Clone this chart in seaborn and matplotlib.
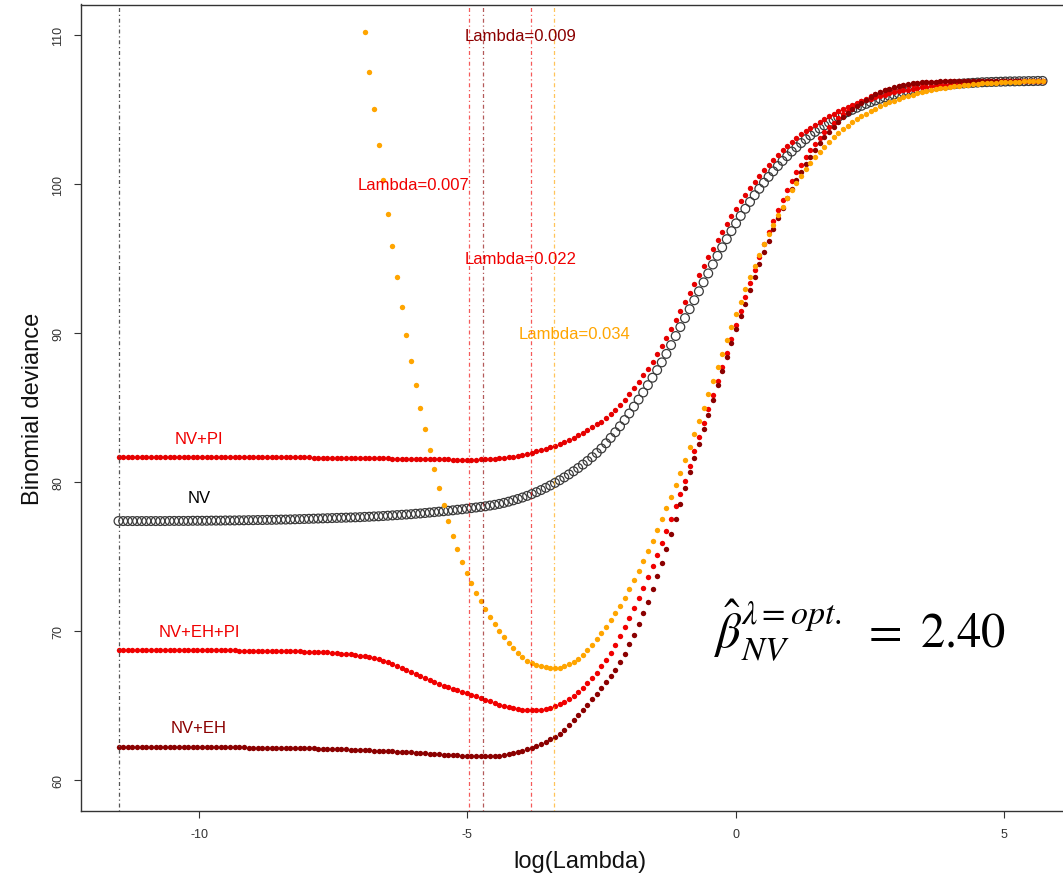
import numpy as np
import pandas as pd
import matplotlib
matplotlib.use("Agg")
import matplotlib.pyplot as plt
import seaborn as sns

# ---- lambda path (evenly spaced in log(lambda), glmnet style) ----
LOG_LAMBDA_MIN = -11.50
LOG_LAMBDA_MAX = 5.72
N_LAMBDA = 200

# ---- cross-validated binomial deviance along the lambda path ----
dev_nv = [
    77.38, 77.38, 77.38, 77.38, 77.38, 77.38, 77.38, 77.38, 77.38, 77.38,
    77.38, 77.39, 77.39, 77.39, 77.39, 77.39, 77.40, 77.40, 77.40, 77.40,
    77.41, 77.41, 77.41, 77.42, 77.42, 77.42, 77.43, 77.43, 77.44, 77.44,
    77.45, 77.45, 77.46, 77.46, 77.47, 77.48, 77.48, 77.49, 77.50, 77.51,
    77.52, 77.53, 77.54, 77.55, 77.56, 77.57, 77.58, 77.59, 77.60, 77.61,
    77.62, 77.63, 77.64, 77.66, 77.67, 77.69, 77.70, 77.72, 77.74, 77.76,
    77.78, 77.80, 77.82, 77.84, 77.87, 77.89, 77.92, 77.95, 77.98, 78.01,
    78.04, 78.07, 78.10, 78.14, 78.17, 78.21, 78.25, 78.29, 78.33, 78.37,
    78.42, 78.47, 78.53, 78.60, 78.68, 78.77, 78.86, 78.96, 79.07, 79.19,
    79.32, 79.46, 79.61, 79.77, 79.94, 80.12, 80.31, 80.51, 80.72, 80.94,
    81.17, 81.41, 81.67, 81.95, 82.25, 82.60, 82.96, 83.34, 83.74, 84.16,
    84.60, 85.06, 85.53, 86.01, 86.50, 87.00, 87.51, 88.03, 88.60, 89.19,
    89.80, 90.40, 91.00, 91.60, 92.20, 92.80, 93.40, 94.00, 94.60, 95.18,
    95.75, 96.30, 96.84, 97.36, 97.86, 98.34, 98.80, 99.25, 99.68, 100.09,
    100.48, 100.85, 101.21, 101.55, 101.87, 102.18, 102.47, 102.75, 103.01, 103.26,
    103.50, 103.72, 103.93, 104.13, 104.32, 104.50, 104.67, 104.83, 104.98, 105.12,
    105.25, 105.38, 105.50, 105.61, 105.72, 105.82, 105.91, 106.00, 106.08, 106.16,
    106.23, 106.30, 106.36, 106.42, 106.47, 106.52, 106.56, 106.60, 106.64, 106.67,
    106.70, 106.73, 106.75, 106.77, 106.79, 106.81, 106.83, 106.84, 106.85, 106.86,
    106.87, 106.88, 106.89, 106.89, 106.90, 106.90, 106.91, 106.91, 106.92, 106.92,
]

dev_nv_pi = [
    81.68, 81.68, 81.68, 81.68, 81.68, 81.68, 81.68, 81.68, 81.68, 81.68,
    81.68, 81.68, 81.68, 81.68, 81.68, 81.67, 81.67, 81.67, 81.67, 81.67,
    81.67, 81.67, 81.67, 81.67, 81.67, 81.66, 81.66, 81.66, 81.66, 81.66,
    81.66, 81.66, 81.66, 81.66, 81.66, 81.65, 81.65, 81.65, 81.65, 81.65,
    81.65, 81.65, 81.64, 81.64, 81.64, 81.63, 81.63, 81.63, 81.62, 81.62,
    81.62, 81.61, 81.61, 81.60, 81.60, 81.59, 81.59, 81.58, 81.58, 81.57,
    81.57, 81.56, 81.56, 81.55, 81.55, 81.54, 81.54, 81.53, 81.53, 81.52,
    81.52, 81.52, 81.51, 81.51, 81.51, 81.51, 81.51, 81.51, 81.52, 81.52,
    81.53, 81.55, 81.58, 81.62, 81.66, 81.71, 81.77, 81.83, 81.90, 81.97,
    82.05, 82.13, 82.22, 82.32, 82.43, 82.55, 82.68, 82.82, 82.97, 83.13,
    83.30, 83.48, 83.67, 83.87, 84.05, 84.30, 84.57, 84.86, 85.17, 85.50,
    85.90, 86.30, 86.72, 87.15, 87.60, 88.08, 88.60, 89.13, 89.68, 90.26,
    90.86, 91.46, 92.07, 92.68, 93.29, 93.90, 94.50, 95.09, 95.67, 96.24,
    96.79, 97.33, 97.85, 98.35, 98.83, 99.29, 99.73, 100.15, 100.55, 100.93,
    101.29, 101.63, 101.95, 102.26, 102.55, 102.82, 103.08, 103.33, 103.56, 103.78,
    103.99, 104.19, 104.38, 104.56, 104.73, 104.89, 105.04, 105.18, 105.31, 105.43,
    105.54, 105.64, 105.74, 105.83, 105.92, 106.00, 106.08, 106.15, 106.22, 106.28,
    106.34, 106.39, 106.44, 106.49, 106.53, 106.57, 106.61, 106.64, 106.67, 106.70,
    106.73, 106.75, 106.77, 106.79, 106.81, 106.83, 106.84, 106.85, 106.86, 106.87,
    106.88, 106.89, 106.90, 106.90, 106.91, 106.91, 106.92, 106.92, 106.93, 106.93,
]

dev_nv_eh_pi = [
    68.72, 68.72, 68.72, 68.72, 68.72, 68.72, 68.72, 68.72, 68.72, 68.72,
    68.72, 68.72, 68.72, 68.72, 68.72, 68.71, 68.71, 68.71, 68.71, 68.71,
    68.71, 68.70, 68.70, 68.70, 68.70, 68.70, 68.69, 68.69, 68.69, 68.68,
    68.68, 68.68, 68.67, 68.67, 68.66, 68.66, 68.65, 68.64, 68.64, 68.63,
    68.62, 68.61, 68.60, 68.59, 68.57, 68.56, 68.54, 68.52, 68.49, 68.46,
    68.43, 68.39, 68.35, 68.30, 68.24, 68.17, 68.09, 68.00, 67.90, 67.79,
    67.67, 67.54, 67.40, 67.26, 67.12, 66.98, 66.84, 66.71, 66.58, 66.46,
    66.34, 66.23, 66.12, 66.02, 65.92, 65.82, 65.71, 65.61, 65.50, 65.39,
    65.28, 65.17, 65.06, 64.97, 64.89, 64.82, 64.76, 64.72, 64.70, 64.69,
    64.70, 64.73, 64.78, 64.86, 64.97, 65.10, 65.26, 65.45, 65.67, 65.92,
    66.20, 66.50, 66.82, 67.20, 67.62, 68.07, 68.55, 69.06, 69.65, 70.25,
    70.88, 71.53, 72.20, 72.90, 73.62, 74.36, 75.12, 75.90, 76.70, 77.52,
    78.36, 79.22, 80.10, 81.10, 82.05, 83.00, 83.97, 84.92, 85.86, 86.80,
    87.74, 88.68, 89.62, 90.56, 91.50, 92.42, 93.34, 94.24, 95.11, 95.95,
    96.76, 97.53, 98.26, 98.95, 99.60, 100.21, 100.78, 101.31, 101.80, 102.26,
    102.69, 103.09, 103.46, 103.80, 104.12, 104.41, 104.68, 104.93, 105.16, 105.37,
    105.56, 105.73, 105.89, 106.03, 106.16, 106.28, 106.38, 106.47, 106.55, 106.62,
    106.68, 106.73, 106.77, 106.80, 106.83, 106.85, 106.87, 106.88, 106.89, 106.90,
    106.90, 106.91, 106.91, 106.91, 106.92, 106.92, 106.92, 106.92, 106.93, 106.93,
    106.93, 106.93, 106.93, 106.93, 106.94, 106.94, 106.94, 106.94, 106.94, 106.94,
]

dev_nv_eh = [
    62.22, 62.22, 62.22, 62.22, 62.22, 62.22, 62.22, 62.22, 62.22, 62.22,
    62.22, 62.22, 62.21, 62.21, 62.21, 62.21, 62.21, 62.21, 62.20, 62.20,
    62.20, 62.20, 62.20, 62.20, 62.19, 62.19, 62.19, 62.19, 62.18, 62.18,
    62.18, 62.17, 62.17, 62.17, 62.16, 62.16, 62.15, 62.15, 62.14, 62.14,
    62.13, 62.12, 62.12, 62.11, 62.10, 62.09, 62.08, 62.07, 62.06, 62.05,
    62.04, 62.03, 62.02, 62.00, 61.99, 61.98, 61.96, 61.95, 61.93, 61.92,
    61.90, 61.88, 61.87, 61.85, 61.83, 61.81, 61.79, 61.77, 61.75, 61.73,
    61.71, 61.69, 61.67, 61.65, 61.64, 61.62, 61.61, 61.60, 61.59, 61.59,
    61.59, 61.60, 61.63, 61.67, 61.73, 61.80, 61.88, 61.97, 62.07, 62.18,
    62.30, 62.43, 62.57, 62.73, 62.90, 63.10, 63.38, 63.68, 64.00, 64.34,
    64.70, 65.06, 65.43, 65.80, 66.18, 66.57, 66.98, 67.41, 67.90, 68.48,
    69.10, 69.76, 70.46, 71.20, 71.98, 72.80, 73.66, 74.56, 75.50, 76.48,
    77.50, 78.55, 79.62, 80.65, 81.62, 82.58, 83.55, 84.52, 85.50, 86.48,
    87.45, 88.42, 89.35, 90.25, 91.12, 91.97, 92.87, 93.75, 94.60, 95.42,
    96.21, 96.97, 97.70, 98.40, 99.06, 99.68, 100.27, 100.83, 101.35, 101.84,
    102.30, 102.73, 103.13, 103.50, 103.85, 104.17, 104.47, 104.75, 105.01, 105.25,
    105.47, 105.67, 105.85, 106.01, 106.15, 106.28, 106.39, 106.49, 106.57, 106.64,
    106.70, 106.75, 106.79, 106.82, 106.85, 106.87, 106.88, 106.89, 106.90, 106.91,
    106.91, 106.92, 106.92, 106.92, 106.93, 106.93, 106.93, 106.93, 106.94, 106.94,
    106.94, 106.94, 106.94, 106.94, 106.94, 106.94, 106.94, 106.94, 106.94, 106.94,
]

# the fifth model's curve enters the plotting window at path index 53
EXT_START = 53
dev_ext = [
    110.22, 107.55, 105.04, 102.62, 100.28, 98.02, 95.85,
    93.77, 91.78, 89.88, 88.10, 86.50, 84.98, 83.53, 82.15, 80.85, 79.62,
    78.47, 77.40, 76.41, 75.50, 74.66, 73.89, 73.19, 72.56, 72.00, 71.45,
    70.93, 70.45, 70.00, 69.60, 69.22, 68.86, 68.54, 68.25, 68.02, 67.85,
    67.72, 67.62, 67.56, 67.52, 67.52, 67.55, 67.63, 67.76, 67.93, 68.15,
    68.42, 68.73, 69.08, 69.47, 69.88, 70.30, 70.74, 71.20, 71.70, 72.23,
    72.80, 73.40, 74.03, 74.69, 75.37, 76.07, 76.79, 77.52, 78.26, 79.01,
    79.78, 80.60, 81.45, 82.32, 83.20, 84.10, 85.00, 85.90, 86.80, 87.70,
    88.60, 89.50, 90.38, 91.25, 92.10, 92.93, 93.73, 94.50, 95.24, 95.95,
    96.63, 97.28, 97.90, 98.49, 99.05, 99.58, 100.08, 100.55, 100.99, 101.41,
    101.80, 102.17, 102.51, 102.83, 103.13, 103.41, 103.67, 103.91, 104.14, 104.35,
    104.55, 104.73, 104.90, 105.06, 105.21, 105.35, 105.48, 105.60, 105.71, 105.81,
    105.91, 106.00, 106.08, 106.16, 106.23, 106.30, 106.36, 106.42, 106.47, 106.52,
    106.56, 106.60, 106.64, 106.67, 106.70, 106.73, 106.75, 106.77, 106.79, 106.81,
    106.83, 106.84, 106.86, 106.87, 106.88, 106.89, 106.90, 106.91, 106.92, 106.93,
]

# optimal lambda of each penalised model
lambda_opt = [0.007, 0.009, 0.022, 0.034]
lambda_colors = ["#F00000", "#8B0000", "#F00000", "#FFA500"]
lambda_label_x = [-6.0, -4.0, -4.0, -3.0]
lambda_label_y = [100.0, 110.0, 95.0, 90.0]

series_names = ["NV+PI", "NV", "NV+EH+PI", "NV+EH"]
series_colors = ["#F00000", "black", "#F00000", "#8B0000"]
series_label_x = [-10.0, -10.0, -10.0, -10.0]
series_label_y = [82.9, 78.95, 69.95, 63.5]

beta_nv_opt = 2.40

# ---- styling ----
sns.set_theme(style="ticks")
plt.rcParams["font.family"] = ["Liberation Sans", "DejaVu Sans"]
plt.rcParams["mathtext.fontset"] = "stix"
plt.rcParams["axes.unicode_minus"] = False

log_lambda = np.linspace(LOG_LAMBDA_MIN, LOG_LAMBDA_MAX, N_LAMBDA)
df = pd.DataFrame({
    "log_lambda": log_lambda,
    "NV": dev_nv,
    "NV+PI": dev_nv_pi,
    "NV+EH+PI": dev_nv_eh_pi,
    "NV+EH": dev_nv_eh,
})
df_ext = pd.DataFrame({
    "log_lambda": log_lambda[EXT_START:],
    "dev": dev_ext,
})

fig = plt.figure(figsize=(10.63, 8.79), dpi=100)
ax = fig.add_axes([81 / 1063, (879 - 812.4) / 879, 997.5 / 1063, 806.9 / 879])

# open circles for the NV-only model
sns.scatterplot(data=df, x="log_lambda", y="NV", ax=ax, marker="o", s=40,
                facecolor="none", edgecolor="#3a3a3a", linewidth=0.9,
                legend=False, zorder=2)
ax.collections[-1].set_facecolor("none")

dot_kw = dict(marker="o", s=15, linewidth=0, legend=False, zorder=3)
sns.scatterplot(data=df, x="log_lambda", y="NV+PI", ax=ax, color="#E60000", **dot_kw)
sns.scatterplot(data=df, x="log_lambda", y="NV+EH+PI", ax=ax, color="#F00000", **dot_kw)
sns.scatterplot(data=df, x="log_lambda", y="NV+EH", ax=ax, color="#8B0000", **dot_kw)
sns.scatterplot(data=df_ext, x="log_lambda", y="dev", ax=ax, color="#FFA500", **dot_kw)

# vertical markers at the optimal lambdas
dotdash = (0, (1.0, 2.2, 3.2, 2.2))
nv_best = log_lambda[int(np.argmin(dev_nv))]
ax.axvline(nv_best, color="#555555", lw=0.9, ls=dotdash, zorder=4)
for lam, col in zip(lambda_opt, lambda_colors):
    ax.axvline(np.log(lam), color=col, lw=0.9, ls=dotdash, alpha=0.65, zorder=4)

for lam, col, tx, ty in zip(lambda_opt, lambda_colors, lambda_label_x, lambda_label_y):
    ax.text(tx, ty, f"Lambda={lam:.3f}", color=col, fontsize=12,
            ha="center", va="center", zorder=5)

for name, col, tx, ty in zip(series_names, series_colors, series_label_x, series_label_y):
    ax.text(tx, ty, name, color=col, fontsize=12, ha="center", va="center", zorder=5)

ax.text(-0.40, 68.9, r"$\hat{\beta}_{NV}^{\lambda=opt.}\ =\ %.2f$" % beta_nv_opt,
        fontsize=35, ha="left", va="baseline", color="black", zorder=5)

ax.set_xlim(-12.199, 6.39)
ax.set_ylim(57.893, 112.05)
ax.set_xticks([-10, -5, 0, 5])
ax.set_yticks([60, 70, 80, 90, 100, 110])
for sp in ax.spines.values():
    sp.set_visible(True)
    sp.set_color("#333333")
    sp.set_linewidth(1.0)
ax.tick_params(axis="both", direction="out", length=5, width=0.8,
               colors="#333333", labelsize=9, pad=7)
ax.tick_params(axis="y", labelrotation=90)
for lbl in ax.get_yticklabels():
    lbl.set_va("center")
ax.set_xlabel("log(Lambda)", fontsize=17, labelpad=7, color="#111111")
ax.set_ylabel("Binomial deviance", fontsize=17, labelpad=6, color="#111111")

fig.savefig("out.png", dpi=100)
